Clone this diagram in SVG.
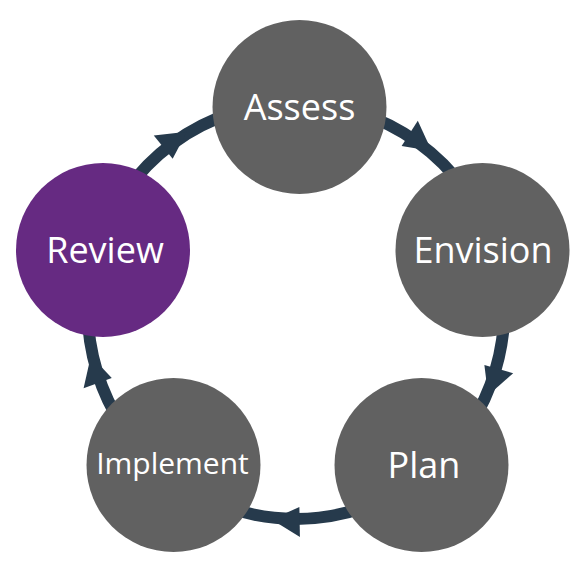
<svg xmlns="http://www.w3.org/2000/svg" xmlns:xlink="http://www.w3.org/1999/xlink" width="587" height="571" viewBox="0 0 587 571">
  <style>
    .arc { fill: none; stroke: #263a4c; stroke-width: 12; }
    .head { fill: #263a4c; }
    .node { fill: #616161; }
    .node.active { fill: #662a82; }
    .label { fill: #ffffff; font-family: "Open Sans", "Noto Sans", "DejaVu Sans", sans-serif; font-size: 36px; text-anchor: middle; }
    .label.small { font-size: 30px; }
  </style>
  <defs>
    <polygon id="arrowhead" class="head" points="28,0 0,-18 0,12"/>
  </defs>
  <rect width="587" height="571" fill="#ffffff"/>
  <g id="connectors">
    <path class="arc" d="M296,103 A208,208 0 0 1 493.6,246"/>
    <path class="arc" d="M493.6,246 A208,208 0 0 1 426.3,473.1"/>
    <path class="arc" d="M426.3,473.1 A208,208 0 0 1 165.7,473.1"/>
    <path class="arc" d="M165.7,473.1 A208,208 0 0 1 97.5,248.8"/>
    <path class="arc" d="M97.5,248.8 A208,208 0 0 1 296,103"/>
    <use xlink:href="#arrowhead" href="#arrowhead" transform="translate(408.1,135.8) rotate(32.6)"/>
    <use xlink:href="#arrowhead" href="#arrowhead" transform="translate(495.9,368.3) rotate(106)"/>
    <use xlink:href="#arrowhead" href="#arrowhead" transform="translate(299.6,519) rotate(179)"/>
    <use xlink:href="#arrowhead" href="#arrowhead" transform="translate(100.5,382.1) rotate(250)"/>
    <use xlink:href="#arrowhead" href="#arrowhead" transform="translate(165.1,149.4) rotate(321)"/>
  </g>
  <g id="node-assess">
    <circle class="node" cx="299.5" cy="107" r="87"/>
    <text class="label" x="299.5" y="120">Assess</text>
  </g>
  <g id="node-envision">
    <circle class="node" cx="482.5" cy="250" r="87"/>
    <text class="label" x="483" y="263">Envision</text>
  </g>
  <g id="node-plan">
    <circle class="node" cx="421.5" cy="465" r="87"/>
    <text class="label" x="424" y="478">Plan</text>
  </g>
  <g id="node-implement">
    <circle class="node" cx="173.5" cy="465" r="87"/>
    <text class="label small" x="172.5" y="474">Implement</text>
  </g>
  <g id="node-review">
    <circle class="node active" cx="103" cy="250" r="87"/>
    <text class="label" x="105" y="263">Review</text>
  </g>
</svg>
